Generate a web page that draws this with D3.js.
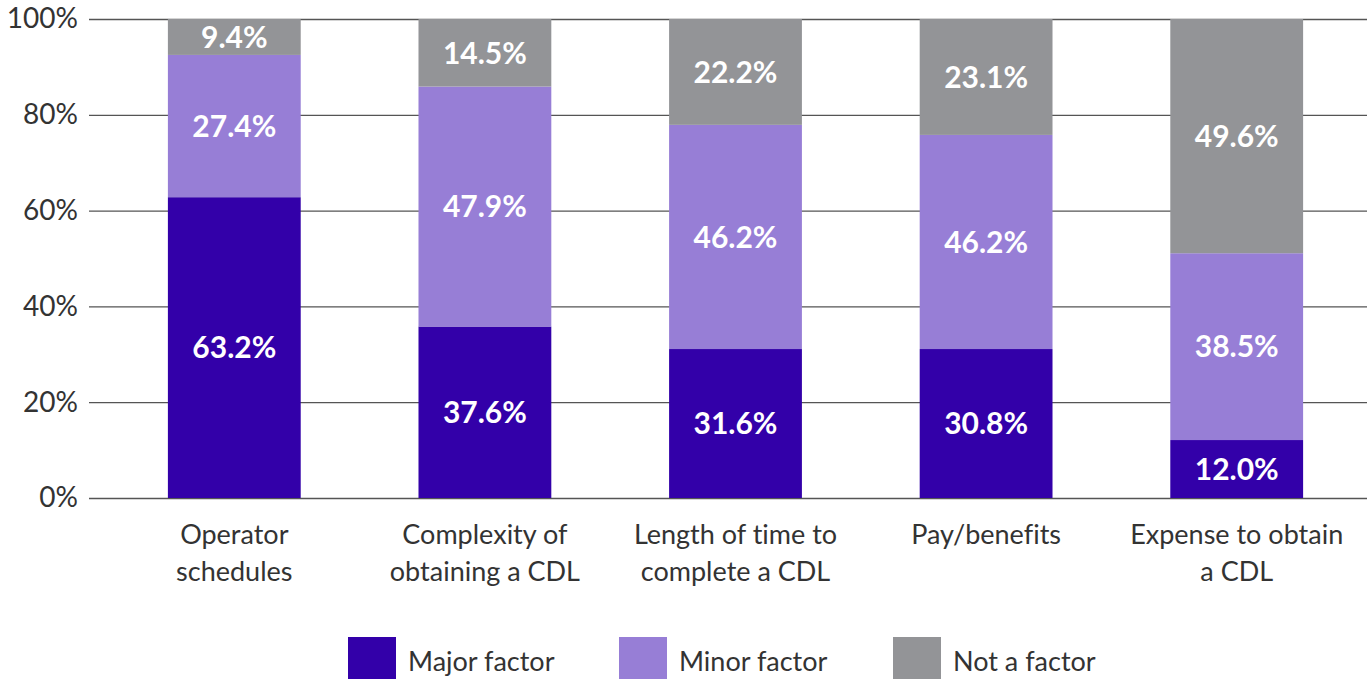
<!DOCTYPE html>
<html><head><meta charset="utf-8">
<script src="https://cdn.jsdelivr.net/npm/d3@7"></script>
<style>body{margin:0;background:#fff}svg{display:block}text{font-family:Lato,"Open Sans",sans-serif;font-variant-ligatures:none;font-feature-settings:"liga" 0,"dlig" 0}</style>
</head><body><svg id="c" width="1367" height="679"></svg>
<script>
const categories = [["Operator","schedules"],["Complexity of","obtaining a CDL"],["Length of time to","complete a CDL"],["Pay/benefits"],["Expense to obtain","a CDL"]];
const seriesNames = ["Major factor","Minor factor","Not a factor"];
// bar heights as drawn in the picture
const major = [62.8,35.8,31.1,31.1,12.1];
const minor = [29.7,50.1,46.8,44.7,39.0];
const notF = [7.5,14.1,22.1,24.2,48.9];
// value labels as printed on the bars
const majorLabels = ["63.2%","37.6%","31.6%","30.8%","12.0%"];
const minorLabels = ["27.4%","47.9%","46.2%","46.2%","38.5%"];
const notLabels = ["9.4%","14.5%","22.2%","23.1%","49.6%"];
const yTicks = [0,20,40,60,80,100];
const colors = ["#3300a9","#977ed6","#939497"];

const svg = d3.select("#c");
const keys = categories.map((c,i)=>i);
const rows = keys.map(i=>({i, "Major factor":major[i], "Minor factor":minor[i], "Not a factor":notF[i]}));
const labelMap = {"Major factor":majorLabels,"Minor factor":minorLabels,"Not a factor":notLabels};
const stack = d3.stack().keys(seriesNames)(rows);

const x = d3.scaleBand().domain(keys).range([109,1362]).paddingInner(0.47).paddingOuter(0.235);
const y = d3.scaleLinear().domain([0,100]).range([498,19]).clamp(true);

// grid
const yAxis = d3.axisLeft(y).tickValues(yTicks).tickFormat(d=>d+"%").tickSize(-(1367-89)).tickPadding(11);
const ga = svg.append("g").attr("transform","translate(89,0)").call(yAxis);
ga.select(".domain").remove();
ga.selectAll(".tick line").attr("stroke","#555").attr("stroke-width",1.3);
ga.selectAll(".tick text").attr("fill","#333").style("font-size","28px");

// bars
const layers = svg.append("g").selectAll("g").data(stack).join("g").attr("fill",(d,i)=>colors[i]);
layers.selectAll("rect").data(d=>d).join("rect")
  .attr("x",d=>x(d.data.i)).attr("width",x.bandwidth())
  .attr("y",d=>y(d[1])).attr("height",d=>y(d[0])-y(d[1]));

// labels
svg.append("g").selectAll("g").data(stack).join("g").selectAll("text").data(d=>d.map(v=>({v,key:d.key}))).join("text")
  .attr("x",d=>x(d.v.data.i)+x.bandwidth()/2)
  .attr("y",d=>(y(d.v[0])+y(d.v[1]))/2)
  .attr("dy","0.36em").attr("text-anchor","middle")
  .attr("fill","#fff").style("font-size","30px").style("font-weight","bold")
  .text(d=>labelMap[d.key][d.v.data.i]);

// x labels
const xl = svg.append("g").selectAll("text").data(keys).join("text")
  .attr("x",i=>x(i)+x.bandwidth()/2).attr("y",544).attr("text-anchor","middle")
  .attr("fill","#333").style("font-size","27px");
xl.selectAll("tspan").data(i=>categories[i].map(t=>({t,i}))).join("tspan")
  .attr("x",d=>x(d.i)+x.bandwidth()/2).attr("dy",(d,j)=>j? "1.37em":0).text(d=>d.t);

// legend
const legX = [348,619,893];
const lg = svg.append("g").selectAll("g").data(seriesNames).join("g").attr("transform",(d,i)=>`translate(${legX[i]},637)`);
lg.append("rect").attr("width",48).attr("height",48).attr("fill",(d,i)=>colors[i]);
lg.append("text").attr("x",60).attr("y",34).attr("fill","#333").style("font-size","27px").text(d=>d);
</script></body></html>
